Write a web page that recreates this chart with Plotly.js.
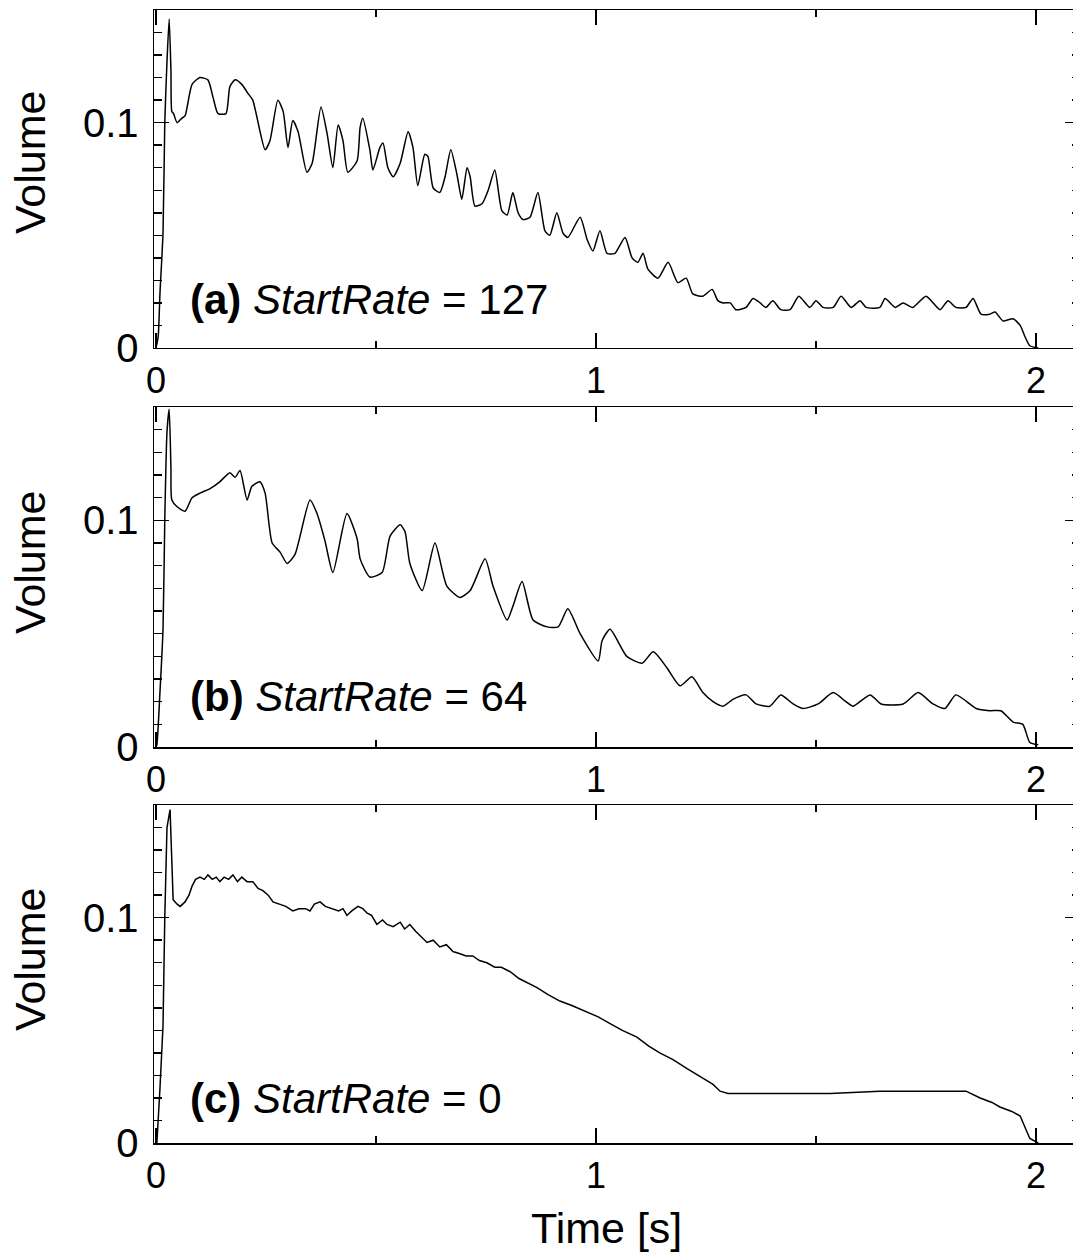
<!DOCTYPE html>
<html>
<head>
<meta charset="utf-8">
<script src="https://cdn.plot.ly/plotly-3.0.1.min.js"></script>
<style>
  html, body { margin: 0; padding: 0; overflow: hidden; background: #ffffff; }
  #chart { width: 1090px; height: 1252px; }
</style>
</head>
<body>
<div id="chart"></div>
<script>
// ---- Data ----
// Panel (a): StartRate = 127
const timeA = [0, 0.005, 0.009, 0.016, 0.020, 0.025, 0.030, 0.034, 0.036, 0.040, 0.048, 0.059, 0.066, 0.082, 0.100, 0.118, 0.130, 0.141, 0.159, 0.168, 0.180, 0.195, 0.209, 0.220, 0.248, 0.259, 0.277, 0.289, 0.300, 0.311, 0.323, 0.343, 0.355, 0.375, 0.389, 0.402, 0.414, 0.425, 0.436, 0.457, 0.464, 0.470, 0.486, 0.493, 0.509, 0.516, 0.527, 0.539, 0.555, 0.573, 0.584, 0.595, 0.611, 0.618, 0.630, 0.645, 0.657, 0.670, 0.684, 0.695, 0.707, 0.714, 0.725, 0.741, 0.755, 0.770, 0.786, 0.798, 0.811, 0.823, 0.834, 0.850, 0.868, 0.884, 0.895, 0.911, 0.925, 0.936, 0.964, 0.980, 0.993, 1.009, 1.025, 1.043, 1.066, 1.082, 1.095, 1.107, 1.118, 1.141, 1.164, 1.186, 1.205, 1.220, 1.243, 1.264, 1.277, 1.289, 1.305, 1.318, 1.341, 1.357, 1.373, 1.386, 1.402, 1.420, 1.441, 1.461, 1.486, 1.500, 1.516, 1.539, 1.557, 1.580, 1.600, 1.614, 1.645, 1.657, 1.680, 1.698, 1.720, 1.750, 1.782, 1.800, 1.818, 1.841, 1.857, 1.875, 1.895, 1.907, 1.925, 1.948, 1.964, 1.975, 1.986, 2.005];
const volA  = [0, 0.005, 0.024, 0.051, 0.100, 0.127, 0.146, 0.123, 0.105, 0.104, 0.100, 0.102, 0.103, 0.117, 0.120, 0.119, 0.111, 0.104, 0.104, 0.116, 0.119, 0.117, 0.113, 0.110, 0.088, 0.092, 0.110, 0.105, 0.089, 0.101, 0.096, 0.078, 0.082, 0.107, 0.095, 0.080, 0.099, 0.092, 0.078, 0.083, 0.098, 0.102, 0.088, 0.079, 0.089, 0.091, 0.080, 0.076, 0.082, 0.096, 0.089, 0.072, 0.086, 0.085, 0.071, 0.069, 0.076, 0.088, 0.077, 0.066, 0.080, 0.076, 0.063, 0.064, 0.070, 0.079, 0.061, 0.059, 0.069, 0.060, 0.057, 0.058, 0.069, 0.052, 0.050, 0.060, 0.051, 0.049, 0.058, 0.048, 0.043, 0.052, 0.042, 0.042, 0.049, 0.040, 0.038, 0.042, 0.035, 0.031, 0.038, 0.029, 0.031, 0.024, 0.023, 0.026, 0.021, 0.020, 0.020, 0.017, 0.018, 0.022, 0.020, 0.018, 0.021, 0.017, 0.017, 0.023, 0.018, 0.021, 0.018, 0.018, 0.023, 0.018, 0.021, 0.018, 0.018, 0.022, 0.018, 0.020, 0.018, 0.023, 0.017, 0.021, 0.018, 0.018, 0.022, 0.015, 0.015, 0.016, 0.012, 0.013, 0.010, 0.005, 0.001, 0.0];

// Panel (b): StartRate = 64
const timeB = [0, 0.002, 0.009, 0.016, 0.020, 0.025, 0.030, 0.034, 0.036, 0.048, 0.066, 0.082, 0.100, 0.123, 0.145, 0.168, 0.180, 0.191, 0.207, 0.218, 0.236, 0.248, 0.264, 0.282, 0.298, 0.316, 0.350, 0.366, 0.384, 0.402, 0.434, 0.457, 0.464, 0.486, 0.514, 0.532, 0.555, 0.566, 0.577, 0.605, 0.634, 0.661, 0.691, 0.714, 0.748, 0.766, 0.798, 0.811, 0.832, 0.857, 0.889, 0.914, 0.936, 0.964, 1.005, 1.014, 1.032, 1.070, 1.105, 1.130, 1.161, 1.191, 1.218, 1.243, 1.266, 1.289, 1.311, 1.341, 1.364, 1.395, 1.420, 1.448, 1.470, 1.505, 1.539, 1.568, 1.584, 1.623, 1.648, 1.698, 1.732, 1.766, 1.793, 1.818, 1.864, 1.895, 1.920, 1.948, 1.970, 1.986, 2.005];
const volB  = [0, 0.001, 0.024, 0.052, 0.100, 0.139, 0.149, 0.123, 0.109, 0.106, 0.104, 0.110, 0.112, 0.114, 0.117, 0.121, 0.119, 0.122, 0.109, 0.115, 0.117, 0.112, 0.090, 0.086, 0.081, 0.085, 0.109, 0.103, 0.091, 0.077, 0.103, 0.092, 0.083, 0.075, 0.077, 0.093, 0.098, 0.095, 0.081, 0.069, 0.090, 0.071, 0.066, 0.069, 0.083, 0.071, 0.056, 0.062, 0.073, 0.056, 0.053, 0.053, 0.061, 0.050, 0.038, 0.047, 0.052, 0.040, 0.037, 0.042, 0.035, 0.027, 0.031, 0.024, 0.020, 0.018, 0.021, 0.023, 0.019, 0.018, 0.023, 0.019, 0.017, 0.019, 0.024, 0.020, 0.018, 0.023, 0.019, 0.019, 0.024, 0.019, 0.017, 0.023, 0.017, 0.016, 0.016, 0.011, 0.010, 0.002, 0.001];

// Panel (c): StartRate = 0
const timeC = [0, 0.002, 0.009, 0.016, 0.020, 0.025, 0.032, 0.036, 0.039, 0.048, 0.055, 0.066, 0.075, 0.082, 0.090, 0.100, 0.110, 0.118, 0.128, 0.137, 0.145, 0.155, 0.165, 0.175, 0.185, 0.195, 0.207, 0.220, 0.232, 0.243, 0.255, 0.266, 0.280, 0.295, 0.311, 0.325, 0.340, 0.350, 0.360, 0.373, 0.385, 0.402, 0.415, 0.425, 0.434, 0.445, 0.459, 0.470, 0.480, 0.490, 0.502, 0.515, 0.525, 0.539, 0.555, 0.565, 0.577, 0.590, 0.600, 0.616, 0.630, 0.645, 0.660, 0.675, 0.691, 0.705, 0.720, 0.735, 0.752, 0.770, 0.785, 0.805, 0.825, 0.845, 0.866, 0.890, 0.918, 0.945, 0.980, 1.005, 1.032, 1.060, 1.093, 1.120, 1.145, 1.175, 1.207, 1.240, 1.266, 1.282, 1.300, 1.318, 1.418, 1.532, 1.645, 1.759, 1.841, 1.873, 1.900, 1.918, 1.945, 1.964, 1.975, 1.986, 2.005];
const volC  = [0, 0.000, 0.024, 0.052, 0.100, 0.140, 0.148, 0.121, 0.108, 0.106, 0.105, 0.107, 0.110, 0.114, 0.117, 0.118, 0.117, 0.119, 0.117, 0.118, 0.116, 0.118, 0.117, 0.119, 0.116, 0.118, 0.116, 0.116, 0.113, 0.112, 0.110, 0.107, 0.106, 0.105, 0.103, 0.104, 0.104, 0.103, 0.106, 0.107, 0.105, 0.104, 0.103, 0.104, 0.101, 0.103, 0.105, 0.104, 0.102, 0.101, 0.097, 0.099, 0.097, 0.096, 0.098, 0.095, 0.097, 0.094, 0.092, 0.089, 0.090, 0.087, 0.088, 0.085, 0.084, 0.083, 0.083, 0.081, 0.080, 0.078, 0.078, 0.076, 0.073, 0.071, 0.069, 0.066, 0.063, 0.061, 0.058, 0.056, 0.053, 0.050, 0.047, 0.043, 0.040, 0.037, 0.033, 0.029, 0.026, 0.023, 0.022, 0.022, 0.022, 0.022, 0.023, 0.023, 0.023, 0.020, 0.018, 0.016, 0.014, 0.012, 0.007, 0.002, 0.0];

const panelLabels = ["<b>(a)</b> <i>StartRate</i> = 127", "<b>(b)</b> <i>StartRate</i> = 64", "<b>(c)</b> <i>StartRate</i> = 0"];
const labelY = [0.0217, 0.0221, 0.0196];
const xTickVals = [0, 1, 2];
const yTickVals = [0, 0.1];
const yTickText = ["0", "0.1"];

// ---- Figure ----
const FONT = "Liberation Sans, Arial, sans-serif";
const series = [[timeA, volA], [timeB, volB], [timeC, volC]];
const shapes = ["spline", "spline", "linear"];
const traces = series.map((s, i) => ({
  x: s[0], y: s[1], type: "scatter", mode: "lines",
  line: {color: "#000000", width: 1.5, shape: shapes[i], smoothing: 0.6},
  xaxis: i === 0 ? "x" : "x" + (i + 1),
  yaxis: i === 0 ? "y" : "y" + (i + 1),
  hoverinfo: "skip", showlegend: false
}));

const domains = [[0.7017, 1.0], [0.3495, 0.6496], [0.0, 0.2983]];

function xAxis(anchor) {
  return {
    anchor: anchor, domain: [0, 1], range: [-0.0045, 2.1],
    showgrid: false, zeroline: false,
    showline: true, linecolor: "#000", linewidth: 1.5, mirror: "allticks",
    ticks: "inside", ticklen: 15, tickwidth: 1.5, tickcolor: "#000",
    tickvals: xTickVals, ticktext: xTickVals.map(String),
    tickfont: {family: FONT, size: 36, color: "#000"},
    minor: {dtick: 0.5, tick0: 0, ticks: "inside", ticklen: 7, tickwidth: 1.5, tickcolor: "#000", showgrid: false},
    ticklabelstandoff: 0
  };
}
function yAxis(anchor, dom) {
  return {
    anchor: anchor, domain: dom, range: [0, 0.15],
    showgrid: false, zeroline: false,
    showline: true, linecolor: "#000", linewidth: 1.5, mirror: "allticks",
    ticks: "inside", ticklen: 15, tickwidth: 1.5, tickcolor: "#000",
    tickvals: yTickVals, ticktext: yTickText,
    tickfont: {family: FONT, size: 40, color: "#000"},
    minor: {dtick: 0.01, tick0: 0, ticks: "inside", ticklen: 8, tickwidth: 1.5, tickcolor: "#000", showgrid: false},
    ticklabelstandoff: 6
  };
}

const annotations = [];
panelLabels.forEach((txt, i) => {
  annotations.push({
    text: txt, xref: i === 0 ? "x" : "x" + (i + 1), yref: i === 0 ? "y" : "y" + (i + 1),
    x: 0.073, y: labelY[i], xanchor: "left", yanchor: "middle", showarrow: false,
    font: {family: FONT, size: 42, color: "#000"}
  });
});
const volumeY = [0.8658, 0.5128, 0.1624];
volumeY.forEach(yv => {
  annotations.push({
    text: "Volume", xref: "paper", yref: "paper", x: -0.134, y: yv,
    xanchor: "center", yanchor: "middle", textangle: -90, showarrow: false,
    font: {family: FONT, size: 43, color: "#000"}
  });
});
annotations.push({
  text: "Time [s]", xref: "paper", yref: "paper", x: 0.489, y: -0.075,
  xanchor: "center", yanchor: "middle", showarrow: false,
  font: {family: FONT, size: 43, color: "#000"}
});

const layout = {
  width: 1090, height: 1252,
  margin: {l: 154, r: 10, t: 10, b: 109, pad: 0},
  paper_bgcolor: "#ffffff", plot_bgcolor: "#ffffff",
  font: {family: FONT, color: "#000"},
  xaxis: xAxis("y"), xaxis2: xAxis("y2"), xaxis3: xAxis("y3"),
  yaxis: yAxis("x", domains[0]), yaxis2: yAxis("x2", domains[1]), yaxis3: yAxis("x3", domains[2]),
  annotations: annotations,
  showlegend: false
};

Plotly.newPlot("chart", traces, layout, {staticPlot: true, displayModeBar: false});
</script>
</body>
</html>
